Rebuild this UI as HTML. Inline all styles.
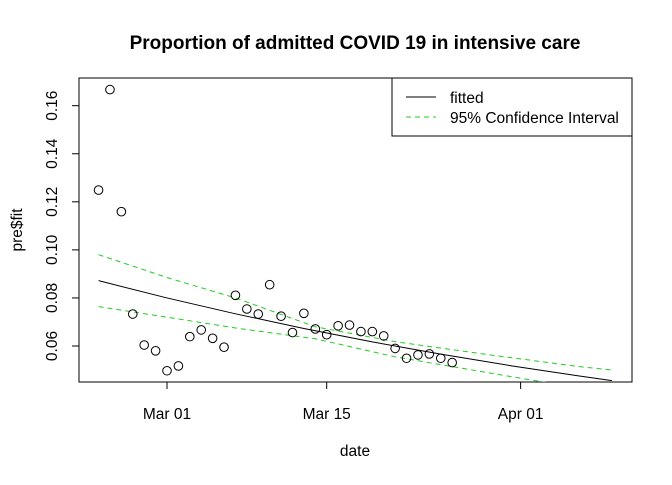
<!DOCTYPE html>
<html><head><meta charset="utf-8"><style>
body{margin:0;background:#fff}
svg text{font-family:"Liberation Sans",Arial,sans-serif;fill:#000}
</style></head><body>
<svg id="c" width="672" height="480" xmlns="http://www.w3.org/2000/svg">
<defs><clipPath id="clip"><rect x="79" y="78" width="553" height="304"/></clipPath></defs>
<text x="355" y="49" font-size="19" font-weight="bold" text-anchor="middle">Proportion of admitted COVID 19 in intensive care</text>
<text x="355" y="456" font-size="15.5" text-anchor="middle">date</text>
<text transform="translate(22,230) rotate(-90)" font-size="15.5" text-anchor="middle">pre$fit</text>
<rect x="79" y="78" width="553" height="304" fill="none" stroke="#000"/>
<g id="ax"></g>
<g id="marks" clip-path="url(#clip)"></g>
<g>
<rect x="392" y="78" width="240" height="58" fill="#fff" stroke="#000"/>
<line x1="406" y1="97" x2="436" y2="97" stroke="#000"/>
<text x="450" y="103" font-size="15.5">fitted</text>
<line x1="406" y1="117" x2="436" y2="117" stroke="#22cc22" stroke-dasharray="5,4"/>
<text x="450" y="123" font-size="15.5">95% Confidence Interval</text>
</g>
</svg>
<script>
// days relative to Mar 01 2020
const obsDays=[-6,-5,-4,-3,-2,-1,0,1,2,3,4,5,6,7,8,9,10,11,12,13,14,15,16,17,18,19,20,21,22,23,24,25];
const obsVals=[0.1249,0.1667,0.1159,0.0733,0.0604,0.0580,0.0497,0.0517,0.0639,0.0667,0.0632,0.0595,0.0811,0.0754,0.0733,0.0855,0.0724,0.0656,0.0736,0.0671,0.0647,0.0684,0.0687,0.0660,0.0660,0.0642,0.0590,0.0549,0.0563,0.0567,0.0549,0.0531];
const fitDays=[-6,0,6,12,18,24,30,36,39];
const fitVals=[0.0872,0.0800,0.0734,0.0673,0.0617,0.0566,0.0519,0.0476,0.0456];
const upDays=[-6,0,6,13,20,28,36,39];
const upVals=[0.098,0.0885,0.080,0.068,0.0618,0.0565,0.0515,0.050];
const loDays=[-6,0,6,13,20,28,33,39];
const loVals=[0.0764,0.072,0.0675,0.063,0.0555,0.049,0.045,0.0415];
const yTicks=[0.06,0.08,0.10,0.12,0.14,0.16];
const xTickDays=[0,14,31];
const xTickLabels=["Mar 01","Mar 15","Apr 01"];
const X=d=>167+d*11.407;
const Y=v=>346-(v-0.06)*2403;
const NS="http://www.w3.org/2000/svg";
const ax=document.getElementById('ax'),mk=document.getElementById('marks');
function el(t,a,p){const e=document.createElementNS(NS,t);for(const k in a)e.setAttribute(k,a[k]);p.appendChild(e);return e;}
yTicks.forEach(v=>{
  const l=el('line',{x1:72,x2:79,y1:Y(v),y2:Y(v),stroke:'#000'},ax);
  
  
  const t=el('text',{transform:`translate(57,${Y(v)}) rotate(-90)`,'font-size':15.5,'text-anchor':'middle'},ax);
  t.textContent=v.toFixed(2);
  
  
});
xTickDays.forEach((d,i)=>{
  const l=el('line',{x1:X(d),x2:X(d),y1:382,y2:389,stroke:'#000'},ax);
  
  
  const t=el('text',{x:X(d),y:419,'font-size':15.5,'text-anchor':'middle'},ax);
  t.textContent=xTickLabels[i];
  
  
});
function line(ds,vs,attrs,name){
  const p=el('polyline',Object.assign({points:ds.map((d,i)=>X(d)+','+Y(vs[i])).join(' '),fill:'none'},attrs),mk);
  
  
}
line(fitDays,fitVals,{stroke:'#000','stroke-width':1},'fitted-line');
line(upDays,upVals,{stroke:'#22cc22','stroke-dasharray':'5,4'},'ci-upper-line');
line(loDays,loVals,{stroke:'#22cc22','stroke-dasharray':'5,4'},'ci-lower-line');
obsDays.forEach((d,i)=>{
  const c=el('circle',{cx:X(d),cy:Y(obsVals[i]),r:4.3,fill:'none',stroke:'#000'},mk);
  
  
});
</script>
</body></html>
